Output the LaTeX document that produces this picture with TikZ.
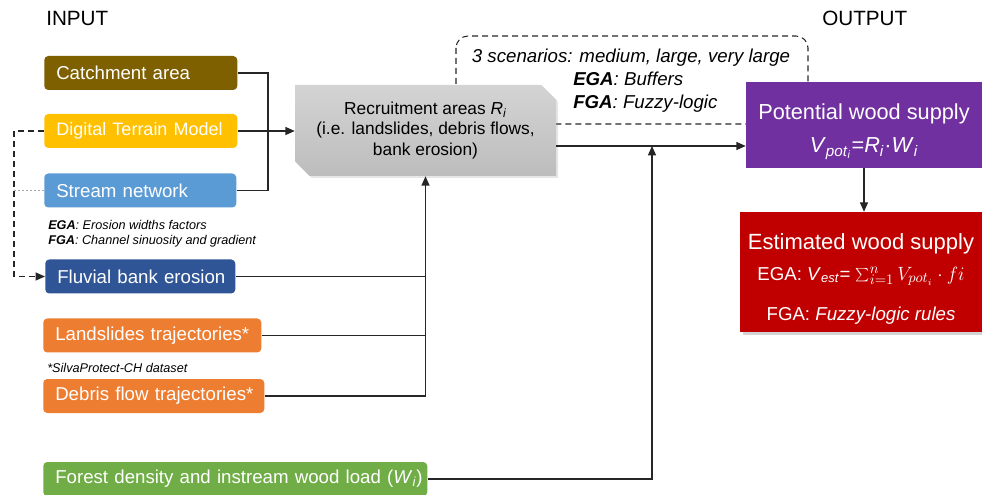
\documentclass[tikz,border=0pt]{standalone}
\usepackage{fontspec}
\setmainfont{Liberation Sans}
\usetikzlibrary{arrows.meta,shapes.misc,shadows}
\definecolor{cbrown}{HTML}{7F6000}
\definecolor{cyellow}{HTML}{FFC000}
\definecolor{cblue}{HTML}{5B9BD5}
\definecolor{cdblue}{HTML}{2F5597}
\definecolor{corange}{HTML}{ED7D31}
\definecolor{cgreen}{HTML}{70AD47}
\definecolor{cpurple}{HTML}{7030A0}
\definecolor{cred}{HTML}{C00000}
\begin{document}
\begin{tikzpicture}[x=0.75pt,y=-0.75pt,
  conn/.style={line width=0.9pt, draw=black!85},
  arr/.style={conn,-{Triangle[length=7pt,width=6pt]}},
  dsh/.style={line width=0.8pt, draw=black!85, dash pattern=on 4.5pt off 3pt},
  inbox/.style={rounded corners=3pt, text=white, font=\fontsize{14}{16}\selectfont,
    anchor=west, align=left, inner xsep=9pt, inner ysep=0pt,
    minimum height=25.5pt, text width=#1},
  note/.style={anchor=west, align=left, inner sep=0pt, font=\fontsize{9.5}{11.3}\selectfont\itshape},
  head/.style={inner sep=0pt, font=\fontsize{15.5}{18}\selectfont}
]
\useasboundingbox (0,0) rectangle (982,495);

% dashed scenario box (behind)
\draw[dsh, rounded corners=9pt] (456,36) rectangle (808,124);

% headings
\node[head, anchor=west] (hin) at (46,18) {INPUT};
\node[head, anchor=west] (hout) at (822,18) {OUTPUT};

% input boxes
\node[inbox=126.75pt, fill=cbrown] (ca) at (44,73) {\mbox{Catchment area}};
\node[inbox=126.75pt, fill=cyellow] (dtm) at (44,131) {\mbox{\fontsize{13.5}{15}\selectfont Digital Terrain Model}};
\node[inbox=126pt, fill=cblue] (sn) at (44,190.5) {\mbox{Stream network}};
\node[note] (n1) at (48,233.5) {\textbf{EGA}: Erosion widths factors\\\textbf{FGA}: Channel sinuosity and gradient};
\node[inbox=124.5pt, fill=cdblue] (fbe) at (45,276.5) {\mbox{Fluvial bank erosion}};
\node[inbox=145.5pt, fill=corange] (ls) at (43,335.5) {\mbox{Landslides trajectories*}};
\node[note] (n2) at (47,368) {*SilvaProtect-CH dataset};
\node[inbox=147.75pt, fill=corange] (df) at (43,396) {\mbox{Debris flow trajectories*}};
\node[inbox=270pt, fill=cgreen] (fo) at (43,479) {\mbox{Forest density and instream wood load (\textit{W}\textsubscript{\textit{i}})}};

% recruitment areas
\node[chamfered rectangle, chamfered rectangle corners={north east,south west},
  chamfered rectangle xsep=5.5pt, chamfered rectangle ysep=5.5pt,
  minimum width=195.75pt, minimum height=68.25pt, inner sep=0pt,
  top color=black!17, bottom color=black!26, draw=none,
  drop shadow={shadow xshift=1.5pt, shadow yshift=-1.5pt, opacity=0.2},
  align=center, font=\fontsize{13}{15.5}\selectfont] (rec) at (425.5,130.5)
  {Recruitment areas \textit{R}\textsubscript{\textit{i}}\\(i.e. landslides, debris flows,\\bank erosion)};

% scenario text
\node[inner sep=0pt, font=\fontsize{14}{17}\selectfont\itshape] (sc1) at (631,58) {3 scenarios: medium, large, very large};
\node[inner sep=0pt, anchor=west, align=left, font=\fontsize{14}{17}\selectfont\itshape] (sc2) at (573,92)
  {\textbf{EGA}: Buffers\\\textbf{FGA}: Fuzzy-logic};

% output boxes
\node[fill=cpurple, text=white, minimum width=177pt, minimum height=64.5pt, inner sep=0pt,
  align=center, font=\fontsize{16.3}{19.5}\selectfont] (pot) at (864,125)
  {\rule{0pt}{21.5pt}Potential wood supply\\[5.5pt]\textit{V}\textsubscript{\textit{pot}\textsubscript{\textit{i}}}=\textit{R}\textsubscript{\textit{i}}·\textit{W}\textsubscript{\textit{i}}};
\node[fill=cred, text=white, minimum width=181.5pt, minimum height=90pt, inner sep=0pt,
  drop shadow={shadow xshift=2pt, shadow yshift=-2pt, opacity=0.35},
  align=center, font=\fontsize{14}{23}\selectfont] (est) at (861,272)
  {\rule{0pt}{22pt}{\fontsize{16.5}{20}\selectfont Estimated wood supply}\\
   EGA: \textit{V}\textsubscript{\textit{est}}= {\fontsize{15}{17}\selectfont$\sum_{i=1}^{n} V_{pot_i}\cdot fi$}\\[7pt]
   FGA: \textit{Fuzzy-logic rules}};

% coordinates
\coordinate (jA) at (268,131);
\coordinate (dl) at (14,200);
\coordinate (ro) at (556,146);
\coordinate (jC) at (652,146);

% connectors
\draw[conn] (ca.east) -| (jA) |- (sn.east);
\draw[arr] (dtm.east) -- (dtm.east -| rec.west);
\draw[dsh, -{Triangle[length=7pt,width=6pt]}] (dtm.west) -| (dl) |- (fbe.west);
\draw[line width=0.6pt, draw=gray!70, dash pattern=on 1.5pt off 1.5pt] (sn.west) -- (sn.west -| dl);
\draw[conn] (fbe.east) -- (fbe.east -| rec.south);
\draw[conn] (ls.east) -- (ls.east -| rec.south);
\draw[arr] (df.east) -| (rec.south);
\draw[arr] (ro) -- (ro -| pot.west);
\draw[arr] (fo.east) -| (jC);
\draw[arr] (pot.south) -- (pot.south |- est.north);
\end{tikzpicture}
\end{document}
